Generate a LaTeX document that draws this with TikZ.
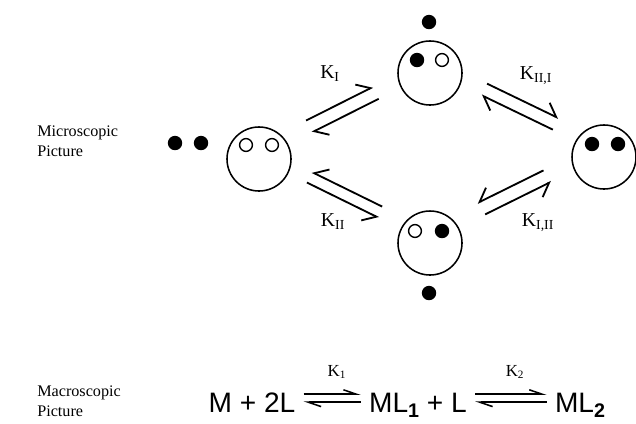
\documentclass[tikz,border=0pt]{standalone}
\usepackage{fontspec}
\setmainfont{Liberation Serif}
\setsansfont{Liberation Sans}
\usetikzlibrary{arrows.meta,calc}
\newcommand{\eqsub}[1]{\raisebox{-0.18em}{\fontsize{14}{14}\selectfont\bfseries #1}}

\begin{document}
\begin{tikzpicture}[x=0.025cm, y=-0.025cm,
  face/.style={draw, circle, line width=1.1pt, minimum size=1.6cm, inner sep=0pt},
  hole/.style={draw, circle, line width=1pt, minimum size=0.32cm, inner sep=0pt},
  ligand/.style={fill, circle, minimum size=0.36cm, inner sep=0pt},
  harpL/.style={line width=1.3pt, -{Straight Barb[left, length=0.3cm, width=0.5cm]}},
  harpR/.style={line width=1.3pt, -{Straight Barb[right, length=0.3cm, width=0.5cm]}},
  klabel/.style={font=\fontsize{14}{16}\selectfont},
  side/.style={font=\fontsize{11.5}{14}\selectfont, align=left, inner sep=0pt, anchor=north west},
  eqtext/.style={font=\fontsize{20}{24}\selectfont\sffamily, anchor=base, inner xsep=0.2cm, inner ysep=0pt},
  eqarr/.style={line width=1.1pt, -{Straight Barb[left, length=0.32cm, width=0.22cm]}}
]
\useasboundingbox (0,0) rectangle (636,423);

% Microscopic picture
\node[side] (micro) at (37,126) {Microscopic\\Picture};

% receptor states
\node[face] (empty) at (259,159) {};
\node[face] (occI) at (430,73) {};
\node[face] (occII) at (430,243) {};
\node[face] (full) at (604,157) {};

% binding sites
\node[hole] (emptyA) at ($(empty)+(-13,-14)$) {};
\node[hole] (emptyB) at ($(empty)+(13,-14)$) {};
\node[ligand] (occIA) at ($(occI)+(-13,-13)$) {};
\node[hole] (occIB) at ($(occI)+(12,-13)$) {};
\node[hole] (occIIA) at ($(occII)+(-15,-12)$) {};
\node[ligand] (occIIB) at ($(occII)+(12,-12)$) {};
\node[ligand] (fullA) at ($(full)+(-12,-13)$) {};
\node[ligand] (fullB) at ($(full)+(14,-13)$) {};

% free ligands
\node[ligand] (freeA) at (175,143) {};
\node[ligand] (freeB) at (201,143) {};
\node[ligand] (freeI) at (429,22) {};
\node[ligand] (freeII) at (429,293) {};

% empty <-> occI
\draw[harpL] ($(empty)!0.31!(occI)!0.33cm!90:(occI)$) -- ($(empty)!0.70!(occI)!0.33cm!90:(occI)$);
\draw[harpL] ($(empty)!0.70!(occI)$) -- ($(empty)!0.31!(occI)$);
\node[klabel] (kI) at (330,74) {K\textsubscript{I}};

% occI <-> full
\draw[harpL] ($(occI)!0.29!(full)!0.38cm!90:(full)$) -- ($(occI)!0.70!(full)!0.38cm!90:(full)$);
\draw[harpL] ($(occI)!0.70!(full)!0.06cm!90:(full)$) -- ($(occI)!0.29!(full)!0.06cm!90:(full)$);
\node[klabel] (kIII) at (536,76) {K\textsubscript{II,I}};

% empty <-> occII
\draw[harpR] ($(empty)!0.69!(occII)!0.29cm!90:(occII)$) -- ($(empty)!0.28!(occII)!0.29cm!90:(occII)$);
\draw[harpR] ($(empty)!0.28!(occII)$) -- ($(empty)!0.70!(occII)$);
\node[klabel] (kII) at (333,222) {K\textsubscript{II}};

% occII <-> full
\draw[harpR] ($(occII)!0.69!(full)!0.37cm!90:(full)$) -- ($(occII)!0.31!(full)!0.37cm!90:(full)$);
\draw[harpR] ($(occII)!0.32!(full)!0.03cm!90:(full)$) -- ($(occII)!0.70!(full)!0.03cm!90:(full)$);
\node[klabel] (kIIII) at (538,223) {K\textsubscript{I,II}};

% Macroscopic picture
\node[side] (macro) at (37,386) {Macroscopic\\Picture};
\node[eqtext] (lhs) at (252,412) {M + 2L};
\node[eqtext] (mid) at (418,412) {ML\eqsub{1} + L};
\node[eqtext] (rhs) at (580,412) {ML\eqsub{2}};

\draw[eqarr] ($(lhs.east)+(0,-8)$) -- ($(lhs.east -| mid.west)+(0,-8)$);
\draw[eqarr] (lhs.east -| mid.west) -- (lhs.east);
\node[font=\fontsize{12}{14}\selectfont] (K1) at (337,372) {K\textsubscript{1}};

\draw[eqarr] ($(mid.east |- lhs.east)+(0,-8)$) -- ($(rhs.west |- lhs.east)+(0,-8)$);
\draw[eqarr] (rhs.west |- lhs.east) -- (mid.east |- lhs.east);
\node[font=\fontsize{12}{14}\selectfont] (K2) at (515,372) {K\textsubscript{2}};

\end{tikzpicture}
\end{document}
